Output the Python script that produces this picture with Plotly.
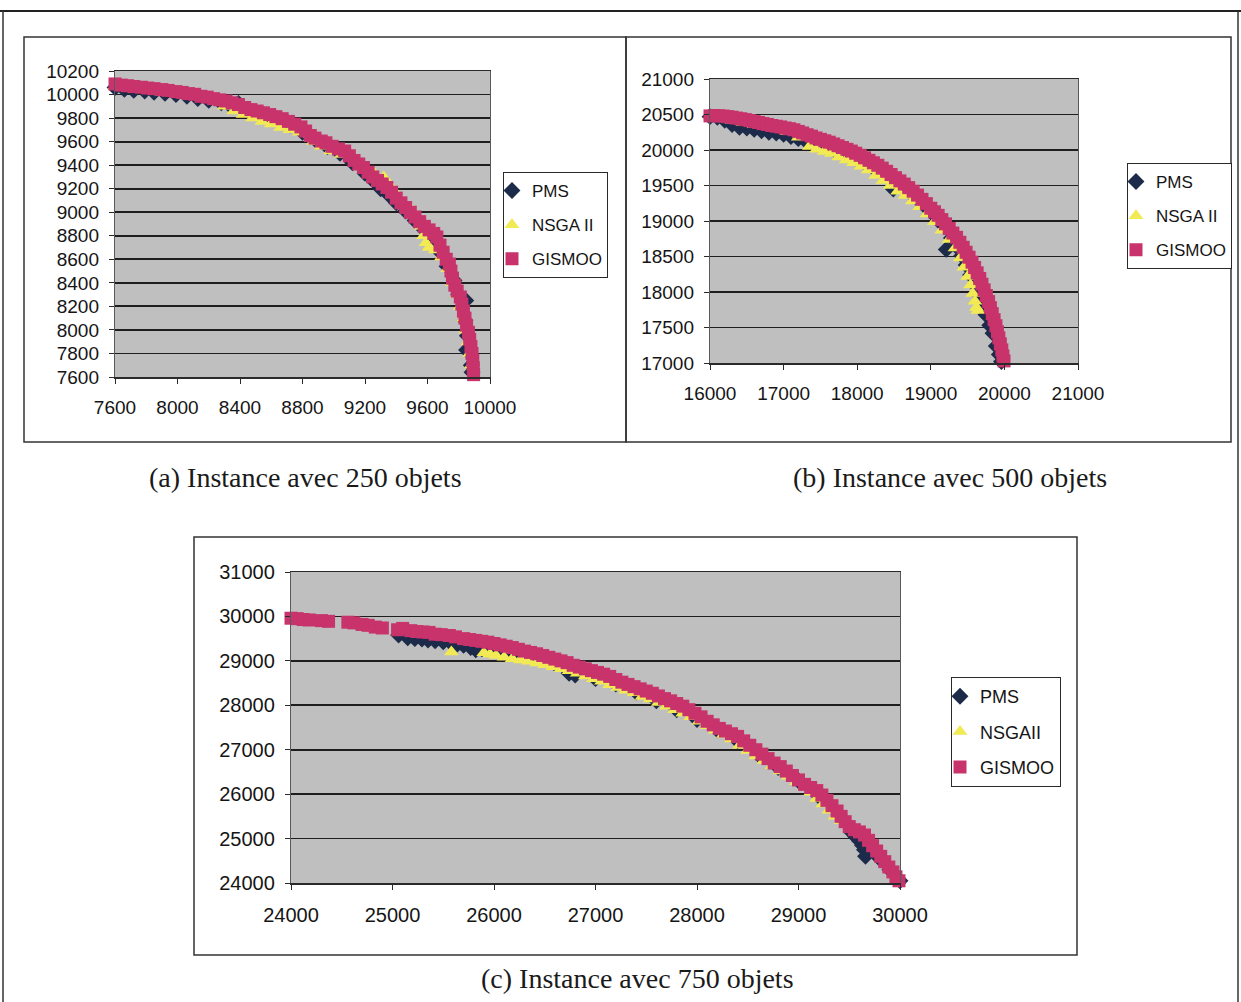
import plotly.graph_objects as go

# ---------------- data ----------------
SERIES_NAMES = ["PMS", "NSGA II", "GISMOO"]
SERIES_NAMES_C = ["PMS", "NSGAII", "GISMOO"]
CAPTIONS = ["(a) Instance avec 250 objets", "(b) Instance avec 500 objets", "(c) Instance avec 750 objets"]

# (a) 250 objets
A_GIS_X = [7600, 7640, 7680, 7720, 7770, 7810, 7850, 7900, 7940, 7990, 8030, 8070, 8110, 8150, 8190, 8230, 8270, 8310, 8350, 8390,
           8430, 8470, 8510, 8550, 8590, 8630, 8670, 8710, 8750, 8790, 8820, 8850, 8880, 8920, 8950, 8990, 9030, 9070, 9100, 9130,
           9160, 9190, 9220, 9250, 9280, 9310, 9340, 9370, 9400, 9430, 9460, 9490, 9520, 9550, 9580, 9610, 9640, 9660, 9680, 9700,
           9720, 9740, 9750, 9760, 9775, 9790, 9810, 9820, 9830, 9840, 9850, 9862, 9870, 9878, 9885, 9890, 9893, 9895]
A_GIS_Y = [10090, 10080, 10075, 10068, 10062, 10055, 10050, 10042, 10035, 10025, 10018, 10008, 10002, 9985, 9978, 9965, 9955, 9945, 9930, 9915,
           9890, 9872, 9860, 9845, 9830, 9812, 9795, 9772, 9748, 9725, 9690, 9652, 9630, 9605, 9590, 9560, 9538, 9520, 9480, 9440,
           9410, 9380, 9340, 9300, 9270, 9240, 9210, 9170, 9120, 9080, 9040, 9000, 8960, 8920, 8880, 8850, 8820, 8790, 8720, 8660,
           8600, 8560, 8500, 8440, 8380, 8330, 8280, 8220, 8160, 8100, 8040, 7980, 7920, 7860, 7800, 7740, 7680, 7620]
A_PMS_X = [7600, 7660, 7720, 7790, 7850, 7920, 7990, 8060, 8130, 8200, 8280, 8340, 8390, 8480, 8560, 8640, 8720, 8800, 8880, 8960,
           9040, 9120, 9200, 9260, 9300, 9350, 9400, 9460, 9520, 9580, 9640, 9690, 9725, 9770, 9800, 9845, 9840, 9855, 9850, 9870, 9880, 9885]
A_PMS_Y = [10060, 10045, 10035, 10030, 10020, 10010, 10000, 9985, 9965, 9950, 9930, 9905, 9925, 9850, 9820, 9785, 9740, 9680, 9620, 9555,
           9500, 9420, 9330, 9260, 9200, 9150, 9080, 9010, 8930, 8850, 8760, 8650, 8540, 8420, 8300, 8250, 8080, 7950, 7830, 7820, 7700, 7640]
A_NSGA_X = [7600, 7700, 7800, 7900, 8000, 8100, 8200, 8300, 8360, 8420, 8480, 8540, 8600, 8660, 8720, 8780, 8850, 8870, 8920, 8980,
            9050, 9120, 9160, 9200, 9260, 9320, 9360, 9400, 9450, 9500, 9530, 9560, 9575, 9590, 9610, 9650, 9690, 9730, 9760, 9790,
            9810, 9830, 9845, 9860, 9870, 9880]
A_NSGA_Y = [10070, 10050, 10040, 10020, 10000, 9985, 9960, 9900, 9860, 9830, 9800, 9770, 9750, 9720, 9700, 9680, 9660, 9600, 9560, 9520,
            9490, 9480, 9420, 9360, 9330, 9300, 9230, 9160, 9080, 9020, 8960, 8880, 8800, 8740, 8700, 8680, 8620, 8520, 8400, 8300,
            8200, 8100, 8000, 7900, 7800, 7700]

# (b) 500 objets
B_GIS_X = [16000, 16060, 16120, 16180, 16240, 16300, 16360, 16420, 16480, 16540, 16600, 16660, 16720, 16780, 16840, 16900, 16960, 17020,
           17080, 17140, 17200, 17260, 17320, 17380, 17440, 17500, 17560, 17620, 17680, 17740, 17800, 17860, 17920, 17980, 18040, 18100,
           18160, 18220, 18280, 18340, 18400, 18460, 18520, 18580, 18640, 18700, 18760, 18820, 18880, 18940, 19000, 19050, 19100, 19150,
           19200, 19250, 19300, 19350, 19395, 19440, 19480, 19520, 19560, 19595, 19630, 19665, 19695, 19725, 19755, 19785, 19810, 19835,
           19860, 19885, 19905, 19925, 19945, 19965, 19980, 19995]
B_GIS_Y = [20480, 20485, 20482, 20478, 20470, 20462, 20450, 20440, 20428, 20415, 20400, 20388, 20372, 20360, 20345, 20335, 20325, 20310,
           20300, 20285, 20262, 20240, 20215, 20195, 20170, 20150, 20130, 20110, 20085, 20060, 20035, 20010, 19985, 19955, 19925, 19890,
           19855, 19820, 19785, 19745, 19700, 19655, 19610, 19565, 19520, 19470, 19420, 19365, 19305, 19245, 19180, 19130, 19080, 19020,
           18960, 18895, 18830, 18770, 18700, 18630, 18560, 18490, 18420, 18345, 18270, 18190, 18110, 18030, 17950, 17865, 17780, 17695,
           17610, 17525, 17440, 17355, 17270, 17185, 17100, 17030]
B_PMS_X = [16000, 16100, 16200, 16300, 16400, 16500, 16600, 16700, 16800, 16900, 17000, 17100, 17200, 17300, 17400, 17500, 17600, 17700,
           17800, 17900, 18000, 18100, 18200, 18300, 18400, 18490, 18600, 18700, 18800, 18900, 19000, 19100, 19210, 19280, 19350, 19420,
           19480, 19540, 19600, 19650, 19700, 19750, 19800, 19845, 19890, 19930, 19960]
B_PMS_Y = [20470, 20460, 20420, 20360, 20320, 20310, 20290, 20270, 20250, 20240, 20220, 20190, 20160, 20130, 20090, 20060, 20030, 19990,
           19960, 19920, 19870, 19820, 19770, 19710, 19650, 19450, 19500, 19420, 19330, 19230, 19130, 19010, 18600, 18760, 18640, 18510,
           18380, 18240, 18100, 17960, 17820, 17680, 17530, 17420, 17240, 17120, 17020]
B_NSGA_X = [16000, 16150, 16300, 16450, 16600, 16750, 16900, 17050, 17200, 17350, 17450, 17550, 17650, 17750, 17850, 17950, 18050, 18150,
            18250, 18350, 18450, 18550, 18650, 18750, 18850, 18950, 19050, 19150, 19250, 19330, 19400, 19450, 19500, 19540, 19570, 19600,
            19620, 19640]
B_NSGA_Y = [20480, 20460, 20420, 20390, 20360, 20330, 20300, 20260, 20180, 20050, 20010, 19980, 19950, 19900, 19860, 19820, 19770, 19720,
            19640, 19570, 19500, 19420, 19360, 19280, 19200, 19100, 18990, 18870, 18740, 18620, 18480, 18350, 18220, 18100, 17980, 17870,
            17780, 17740]

# (c) 750 objets
C_GIS_X = [24000, 24060, 24120, 24180, 24300, 24370, 24560, 24620, 24700, 24760, 24830, 24900, 25050, 25100, 25180, 25240, 25300, 25360,
           25420, 25480, 25560, 25620, 25700, 25760, 25820, 25880, 25940, 26000, 26060, 26120, 26180, 26240, 26300, 26360, 26420, 26480,
           26540, 26600, 26660, 26720, 26780, 26840, 26900, 26960, 27020, 27080, 27140, 27200, 27260, 27320, 27380, 27440, 27500, 27560,
           27620, 27680, 27740, 27800, 27860, 27920, 27980, 28040, 28100, 28160, 28220, 28280, 28340, 28400, 28460, 28520, 28580, 28640,
           28700, 28760, 28820, 28880, 28940, 29000, 29060, 29120, 29180, 29230, 29280, 29330, 29380, 29420, 29460, 29500, 29550, 29600,
           29650, 29690, 29730, 29770, 29810, 29850, 29890, 29930, 29960, 29990]
C_GIS_Y = [29960, 29950, 29930, 29920, 29905, 29890, 29870, 29855, 29820, 29800, 29760, 29740, 29700, 29730, 29680, 29660, 29650, 29640,
           29600, 29590, 29570, 29540, 29500, 29480, 29460, 29440, 29420, 29390, 29360, 29330, 29300, 29260, 29220, 29190, 29160, 29120,
           29080, 29040, 29000, 28960, 28900, 28860, 28820, 28780, 28740, 28700, 28650, 28580, 28520, 28470, 28420, 28370, 28320, 28270,
           28210, 28150, 28100, 28040, 27980, 27900, 27820, 27740, 27640, 27560, 27480, 27420, 27360, 27300, 27200, 27100, 27000, 26900,
           26800, 26700, 26620, 26520, 26420, 26320, 26220, 26150, 26080, 25980, 25860, 25740, 25620, 25500, 25380, 25270, 25200, 25150,
           25080, 24960, 24840, 24720, 24600, 24480, 24360, 24250, 24140, 24050]
C_PMS_X = [25060, 25150, 25220, 25290, 25350, 25420, 25500, 25560, 25640, 25700, 25770, 25820, 25880, 25950, 26050, 26200, 26400, 26600,
           26740, 26800, 27000, 27200, 27400, 27600, 27800, 28000, 28200, 28400, 28600, 28800, 29000, 29200, 29400, 29520, 29560, 29600,
           29630, 29650, 29660, 29700, 29800, 29900, 30000]
C_PMS_Y = [29580, 29520, 29500, 29490, 29470, 29450, 29430, 29440, 29380, 29350, 29300, 29250, 29270, 29280, 29250, 29150, 29080, 28940,
           28720, 28680, 28600, 28480, 28300, 28100, 27900, 27680, 27450, 27200, 26900, 26600, 26300, 25950, 25550, 25150, 25050, 24950,
           24850, 24750, 24600, 24900, 24550, 24300, 24050]
C_NSGA_X = [25580, 25900, 25960, 26020, 26100, 26180, 26260, 26340, 26420, 26500, 26580, 26660, 26740, 26750, 26820, 26900, 26980, 27060,
            27140, 27220, 27300, 27380, 27460, 27540, 27620, 27700, 27780, 27860, 27940, 28020, 28100, 28180, 28260, 28340, 28420, 28500,
            28580, 28660, 28740, 28820, 28900, 28980, 29060, 29120, 29180, 29240, 29300, 29360, 29420]
C_NSGA_Y = [29200, 29180, 29150, 29120, 29080, 29050, 29020, 28990, 28950, 28910, 28870, 28820, 28780, 28950, 28720, 28660, 28600, 28540,
            28460, 28400, 28340, 28280, 28200, 28140, 28060, 27980, 27900, 27820, 27740, 27640, 27540, 27440, 27340, 27240, 27100, 26980,
            26860, 26760, 26640, 26520, 26400, 26280, 26160, 26040, 25900, 25780, 25640, 25500, 25400]

# ---------------- styling / layout ----------------
W, H = 1241, 1002
COL_PMS = "#1c2b4a"
COL_NSGA = "#f2ea55"
COL_GIS = "#c8336b"
SANS = "Liberation Sans, Arial, sans-serif"
SERIF = "Liberation Serif, Times New Roman, serif"


def fx(px):
    return px / W


def fy(py):
    return 1 - py / H


panels = [
    dict(key="", xd=(115, 490), yd=(71, 377), xr=(7600, 10000), xt=400, yr=(7600, 10200), yt=200,
         data=[(A_PMS_X, A_PMS_Y), (A_NSGA_X, A_NSGA_Y), (A_GIS_X, A_GIS_Y)], names=SERIES_NAMES,
         legend="legend", lg=(503, 172), fs=19, lfs=17, ms=13),
    dict(key="2", xd=(710, 1078), yd=(79, 363), xr=(16000, 21000), xt=1000, yr=(17000, 21000), yt=500,
         data=[(B_PMS_X, B_PMS_Y), (B_NSGA_X, B_NSGA_Y), (B_GIS_X, B_GIS_Y)], names=SERIES_NAMES,
         legend="legend2", lg=(1127, 163), fs=19, lfs=17, ms=13),
    dict(key="3", xd=(291, 900), yd=(572, 883), xr=(24000, 30000), xt=1000, yr=(24000, 31000), yt=1000,
         data=[(C_PMS_X, C_PMS_Y), (C_NSGA_X, C_NSGA_Y), (C_GIS_X, C_GIS_Y)], names=SERIES_NAMES_C,
         legend="legend3", lg=(951, 677), fs=20, lfs=18, ms=13),
]

symbols = ["diamond", "triangle-up", "square"]
colors = [COL_PMS, COL_NSGA, COL_GIS]

fig = go.Figure()
layout = dict(
    width=W, height=H, margin=dict(l=0, r=0, t=0, b=0, pad=0, autoexpand=False),
    paper_bgcolor="white", plot_bgcolor="#bfbfbf",
    font=dict(family=SANS, size=17, color="#151515"),
    showlegend=True,
)

for i, p in enumerate(panels):
    k = p["key"]
    for j, (xs, ys) in enumerate(p["data"]):
        fig.add_trace(go.Scatter(
            x=xs, y=ys, mode="markers", name=p["names"][j],
            marker=dict(symbol=symbols[j], size=p["ms"], color=colors[j], line=dict(width=0)),
            xaxis="x" + k, yaxis="y" + k, cliponaxis=False,
            legend=p["legend"], legendgroup=f"{i}-{j}",
        ))
    layout["xaxis" + k] = dict(
        domain=[fx(p["xd"][0]), fx(p["xd"][1])], anchor="y" + k,
        range=list(p["xr"]), dtick=p["xt"], tick0=p["xr"][0], tickformat="d",
        showgrid=False, zeroline=False, showline=True, linecolor="#2a2a2a", linewidth=1.5, mirror=True,
        ticks="outside", ticklen=5, tickcolor="#2a2a2a", tickwidth=1,
        tickfont=dict(family=SANS, size=p["fs"], color="#151515"), ticklabelstandoff=8,
        fixedrange=True, automargin=False,
    )
    layout["yaxis" + k] = dict(
        domain=[fy(p["yd"][1]), fy(p["yd"][0])], anchor="x" + k,
        range=list(p["yr"]), dtick=p["yt"], tick0=p["yr"][0], tickformat="d",
        showgrid=True, gridcolor="#1e1e1e", gridwidth=1.8,
        zeroline=False, showline=True, linecolor="#5a5a5a", linewidth=1.2, mirror=True,
        ticks="outside", ticklen=5, tickcolor="#2a2a2a", tickwidth=1,
        tickfont=dict(family=SANS, size=p["fs"], color="#151515"), ticklabelstandoff=6,
        fixedrange=True, automargin=False,
    )
    layout[p["legend"]] = dict(
        x=fx(p["lg"][0]), y=fy(p["lg"][1]), xanchor="left", yanchor="top",
        bgcolor="white", bordercolor="#2a2a2a", borderwidth=1,
        font=dict(family=SANS, size=p["lfs"], color="#151515"),
        tracegroupgap=9, indentation=-12, itemwidth=30,
    )

fig.update_layout(**layout)

# frames
shapes = [
    # outer frame (top, left, right)
    dict(type="line", x0=0, x1=1, y0=fy(11), y1=fy(11), line=dict(color="#222", width=2)),
    dict(type="line", x0=fx(3), x1=fx(3), y0=fy(11), y1=0, line=dict(color="#333", width=1.5)),
    dict(type="line", x0=fx(1238), x1=fx(1238), y0=fy(11), y1=0, line=dict(color="#333", width=1.5)),
    # panel frames
    dict(type="rect", x0=fx(24), x1=fx(626), y0=fy(442), y1=fy(37), line=dict(color="#333", width=1.5)),
    dict(type="rect", x0=fx(626), x1=fx(1231), y0=fy(442), y1=fy(37), line=dict(color="#333", width=1.5)),
    dict(type="rect", x0=fx(194), x1=fx(1077), y0=fy(955), y1=fy(537), line=dict(color="#333", width=1.5)),
]
for s in shapes:
    s.update(xref="paper", yref="paper", layer="above")
fig.update_layout(shapes=shapes)

caps = [(305, 478), (950, 478), (637, 978)]
for t, (cx, cy) in zip(CAPTIONS, caps):
    fig.add_annotation(text=t, x=fx(cx), y=fy(cy), xref="paper", yref="paper", showarrow=False,
                       xanchor="center", yanchor="middle", font=dict(family=SERIF, size=28, color="#1a1a1a"))

fig.write_html(
    "out.html",
    config={"displayModeBar": False, "staticPlot": True},
    post_script="document.body.style.margin='0';document.body.style.padding='0';document.body.style.overflow='hidden';",
)
